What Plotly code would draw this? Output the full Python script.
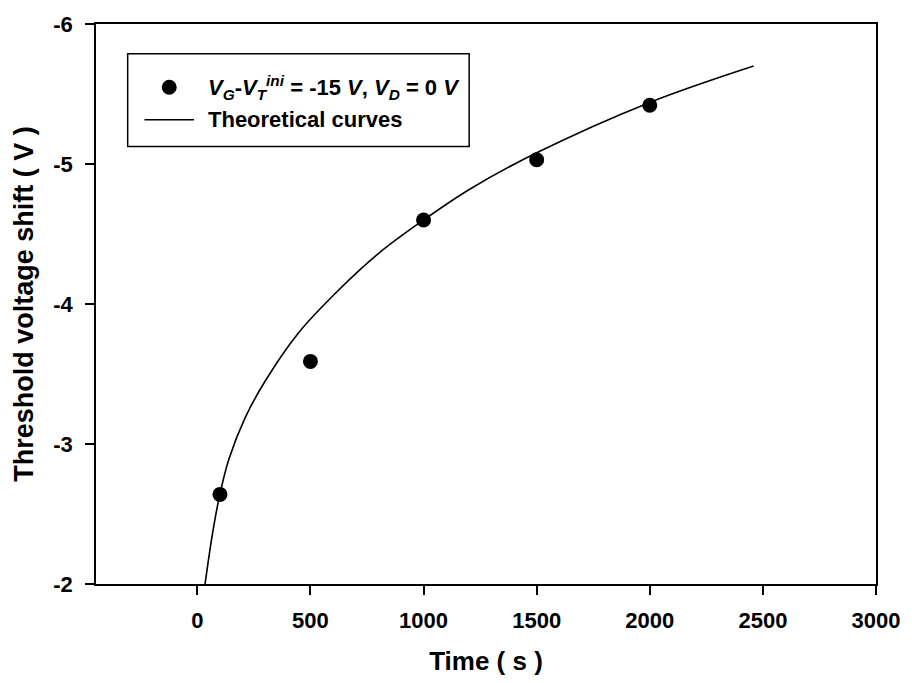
import plotly.graph_objects as go

# Measured threshold voltage shift under gate bias stress
time_s = [100, 500, 1000, 1500, 2000]
dvt_meas = [-2.64, -3.59, -4.60, -5.03, -5.42]

# Theoretical (stretched-exponential) curve, sampled
time_fit = [34, 66, 98, 139, 212, 300, 445, 606, 800, 1000, 1204, 1500,
            2000, 2459]
dvt_fit = [-2.00, -2.35, -2.63, -2.89, -3.19, -3.45, -3.79, -4.07, -4.36,
           -4.60, -4.82, -5.08, -5.44, -5.70]

x_ticks = [0, 500, 1000, 1500, 2000, 2500, 3000]
x_labels = ["0", "500", "1000", "1500", "2000", "2500", "3000"]
y_ticks = [-2, -3, -4, -5, -6]
y_labels = ["-2", "-3", "-4", "-5", "-6"]

FONT = "Liberation Sans, Arial, sans-serif"

fig = go.Figure()
fig.add_trace(go.Scatter(
    x=time_fit, y=dvt_fit, mode="lines", line_shape="spline",
    line=dict(color="black", width=1.6), showlegend=False))
fig.add_trace(go.Scatter(
    x=time_s, y=dvt_meas, mode="markers",
    marker=dict(color="black", size=15), showlegend=False))

axis_common = dict(
    showgrid=False, zeroline=False, showline=True, linecolor="black",
    linewidth=1.8, mirror=True, ticks="outside", ticklen=9, tickwidth=1.5,
    tickcolor="black", tickfont=dict(family=FONT, size=22, color="black",
                                     weight="bold"))

fig.update_xaxes(range=[-448, 3000], tickvals=x_ticks, ticktext=x_labels,
                 ticklabelstandoff=7,
                 title=dict(text="Time ( s )", standoff=20,
                            font=dict(family=FONT, size=26, color="black",
                                      weight="bold")),
                 **axis_common)
fig.update_yaxes(range=[-2, -6], tickvals=y_ticks, ticktext=y_labels,
                 ticklabelstandoff=8,
                 title=dict(text="Threshold voltage shift ( V )", standoff=12,
                            font=dict(family=FONT, size=27, color="black",
                                      weight="bold")),
                 **axis_common)

# Legend box drawn in paper coordinates
def px_x(p):
    return (p - 96) / 788

def px_y(p):
    return 1 - (p - 17) / 567

shapes = [
    dict(type="rect", xref="paper", yref="paper", x0=px_x(128), x1=px_x(473),
         y0=px_y(141), y1=px_y(47), line=dict(color="black", width=1.5),
         fillcolor="white", layer="above"),
    dict(type="line", xref="paper", yref="paper", x0=px_x(145), x1=px_x(195),
         y0=px_y(114), y1=px_y(114), line=dict(color="black", width=1.6)),
    dict(type="circle", xref="paper", yref="paper", xsizemode="pixel",
         ysizemode="pixel", xanchor=px_x(170), yanchor=px_y(81),
         x0=-7.5, x1=7.5, y0=-7.5, y1=7.5, fillcolor="black",
         line=dict(color="black", width=0)),
]

legend_font = dict(family=FONT, size=22, color="black", weight="bold")
annotations = [
    dict(xref="paper", yref="paper", x=px_x(207), y=px_y(81),
         xanchor="left", yanchor="middle", showarrow=False, font=legend_font,
         text="<i>V</i><sub><i>G</i></sub>-<i>V</i><sub><i>T</i></sub>"
              "<sup><i>ini</i></sup> = -15 <i>V</i>, "
              "<i>V</i><sub><i>D</i></sub> = 0 <i>V</i>"),
    dict(xref="paper", yref="paper", x=px_x(207), y=px_y(114),
         xanchor="left", yanchor="middle", showarrow=False, font=legend_font,
         text="Theoretical curves"),
]

fig.update_layout(
    width=912, height=683, margin=dict(l=96, r=28, t=17, b=99),
    paper_bgcolor="white", plot_bgcolor="white",
    shapes=shapes, annotations=annotations, showlegend=False)

fig.write_html("out.html")
